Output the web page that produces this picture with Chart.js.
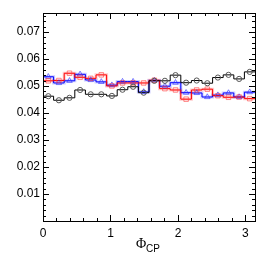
<!DOCTYPE html>
<html>
<head>
<meta charset="utf-8">
<script src="https://cdn.jsdelivr.net/npm/chart.js@4/dist/chart.umd.min.js"></script>
<style>
  html, body { margin: 0; padding: 0; background: #fff; }
  #wrap { width: 266px; height: 255px; }
</style>
</head>
<body>
<div id="wrap"><canvas id="myChart" width="266" height="255"></canvas></div>
<script>
// 20 bins of Phi_CP between 0 and pi
const nBins = 20;
const xMin = 0;
const xMax = Math.PI;

const blackVals = [0.0462, 0.0447, 0.0456, 0.0485, 0.0469, 0.0469, 0.0463, 0.0486, 0.0497, 0.0475,
                   0.0519, 0.0519, 0.0540, 0.0512, 0.0520, 0.0510, 0.0531, 0.0541, 0.0526, 0.0552];
const redVals   = [0.0519, 0.0520, 0.0547, 0.0532, 0.0528, 0.0541, 0.0500, 0.0511, 0.0511, 0.0511,
                   0.0521, 0.0490, 0.0485, 0.0451, 0.0485, 0.0488, 0.0464, 0.0458, 0.0459, 0.0453];
const blueVals  = [0.0534, 0.0511, 0.0519, 0.0543, 0.0522, 0.0515, 0.0503, 0.0516, 0.0516, 0.0478,
                   0.0520, 0.0499, 0.0512, 0.0475, 0.0474, 0.0459, 0.0466, 0.0474, 0.0459, 0.0477];

const xTickLabels = [0, 1, 2, 3];
const yTickLabels = [0.01, 0.02, 0.03, 0.04, 0.05, 0.06, 0.07];
const yMax = 0.077;

const binW = (xMax - xMin) / nBins;

// histogram outline: one point per left edge + last edge
function stepPoints(vals) {
  const pts = vals.map((v, i) => ({ x: xMin + i * binW, y: v }));
  pts.push({ x: xMax, y: vals[vals.length - 1] });
  return pts;
}
function centerPoints(vals) {
  return vals.map((v, i) => ({ x: xMin + (i + 0.5) * binW, y: v }));
}

// ROOT style frame with inward ticks on all four sides
const frameTicks = {
  id: 'frameTicks',
  afterDraw(chart) {
    const c = chart.ctx;
    const a = chart.chartArea;
    const xs = chart.scales.x;
    const ys = chart.scales.y;
    c.save();
    c.strokeStyle = '#000';
    c.lineWidth = 1;
    c.beginPath();
    // x ticks every 0.2
    for (let k = 0; k * 0.2 <= xMax + 1e-9; k++) {
      const v = k * 0.2;
      const px = Math.round(xs.getPixelForValue(v)) + 0.5;
      const len = (k % 5 === 0) ? 6 : 3;
      c.moveTo(px, a.bottom); c.lineTo(px, a.bottom - len);
      c.moveTo(px, a.top); c.lineTo(px, a.top + len);
    }
    // y ticks every 0.002
    for (let k = 1; k * 0.002 <= yMax + 1e-9; k++) {
      const v = k * 0.002;
      const py = Math.round(ys.getPixelForValue(v)) + 0.5;
      const len = (k % 5 === 0) ? 6 : 3;
      c.moveTo(a.left, py); c.lineTo(a.left + len, py);
      c.moveTo(a.right, py); c.lineTo(a.right - len, py);
    }
    c.stroke();
    c.strokeRect(Math.round(a.left) + 0.5, Math.round(a.top) + 0.5,
                 Math.round(a.right - a.left), Math.round(a.bottom - a.top));
    // axis title Phi_CP
    c.fillStyle = '#000';
    c.textBaseline = 'alphabetic';
    c.font = '14px "Liberation Serif", "DejaVu Serif", serif';
    c.fillText('\u03A6', 136, 248);
    c.font = '10px "Liberation Sans", Arial, sans-serif';
    c.fillText('CP', 146, 252);
    c.restore();
  }
};

const ctx = document.getElementById('myChart').getContext('2d');

const myChart = new Chart(ctx, {
  type: 'line',
  data: {
    datasets: [
      // error bands
      { data: stepPoints(redVals), stepped: true, borderColor: 'rgba(255,0,0,0.2)', borderWidth: 3, pointRadius: 0, order: 9 },
      { data: stepPoints(blueVals), stepped: true, borderColor: 'rgba(0,0,255,0.2)', borderWidth: 3, pointRadius: 0, order: 8 },
      // histogram outlines
      { data: stepPoints(blueVals), stepped: true, borderColor: '#0000ff', borderWidth: 1, pointRadius: 0, order: 6 },
      { data: stepPoints(redVals), stepped: true, borderColor: '#ff0000', borderWidth: 1, pointRadius: 0, order: 5 },
      { data: stepPoints(blackVals), stepped: true, borderColor: '#000000', borderWidth: 1, pointRadius: 0, order: 4 },
      // markers
      { data: centerPoints(blueVals), showLine: false, pointStyle: 'triangle', pointRadius: 3.2,
        pointBorderColor: 'rgba(40,40,255,0.6)', pointBackgroundColor: 'rgba(0,0,0,0)', pointBorderWidth: 1, order: 3 },
      { data: centerPoints(redVals), showLine: false, pointStyle: 'rect', pointRadius: 3.2,
        pointBorderColor: 'rgba(255,60,60,0.6)', pointBackgroundColor: 'rgba(0,0,0,0)', pointBorderWidth: 1, order: 2 },
      { data: centerPoints(blackVals), showLine: false, pointStyle: 'circle', pointRadius: 2.6,
        pointBorderColor: '#555555', pointBackgroundColor: 'rgba(0,0,0,0)', pointBorderWidth: 1, order: 1 },
    ],
  },
  options: {
    responsive: false,
    animation: false,
    layout: { padding: { top: 13, right: 11, bottom: 0, left: 0 } },
    plugins: { legend: { display: false }, tooltip: { enabled: false } },
    scales: {
      x: {
        type: 'linear',
        min: xMin,
        max: xMax,
        grid: { display: false, drawTicks: false },
        border: { display: false },
        afterBuildTicks: (s) => { s.ticks = xTickLabels.map((v) => ({ value: v })); },
        afterFit: (s) => { s.height = 34; },
        ticks: {
          padding: 5,
          maxRotation: 0,
          color: '#000',
          font: { family: '"Liberation Sans", Arial, sans-serif', size: 12 },
          callback: (v) => String(v),
        },
      },
      y: {
        min: 0,
        max: yMax,
        grid: { display: false, drawTicks: false },
        border: { display: false },
        afterBuildTicks: (s) => { s.ticks = yTickLabels.map((v) => ({ value: v })); },
        afterFit: (s) => { s.width = 43; },
        ticks: {
          padding: 3,
          color: '#000',
          font: { family: '"Liberation Sans", Arial, sans-serif', size: 12 },
          callback: (v) => v.toFixed(2),
        },
      },
    },
  },
  plugins: [frameTicks],
});
</script>
</body>
</html>
